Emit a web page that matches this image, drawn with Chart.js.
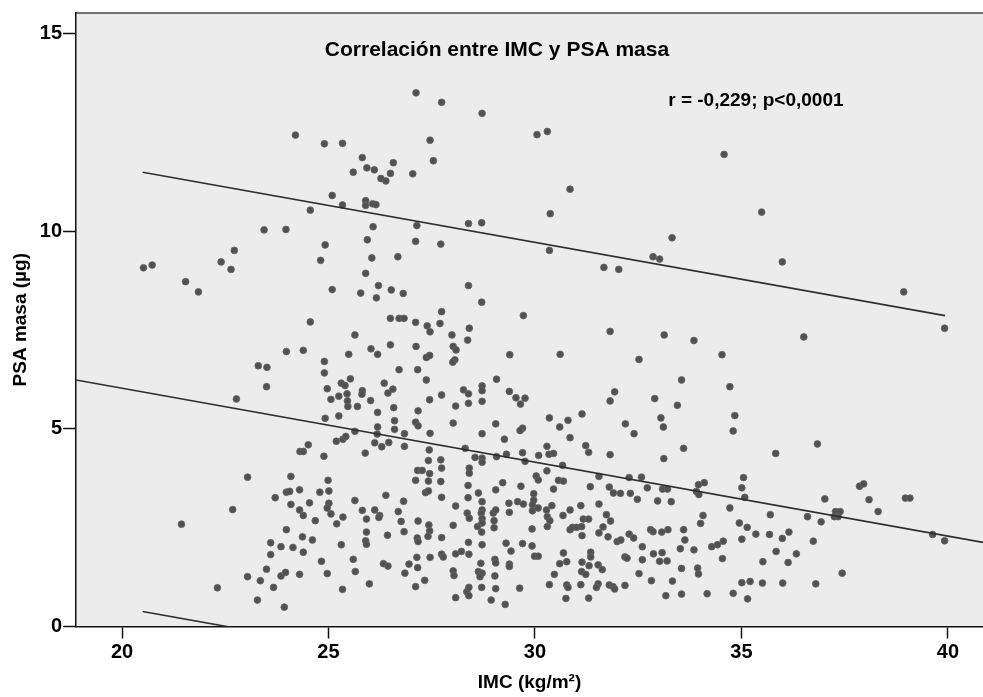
<!DOCTYPE html>
<html>
<head>
<meta charset="utf-8">
<script src="https://cdn.jsdelivr.net/npm/chart.js@4.4.1/dist/chart.umd.min.js"></script>
<style>
  html, body { margin: 0; padding: 0; background: #ffffff; }
  #wrap { width: 983px; height: 697px; }
</style>
</head>
<body>
<div id="wrap"><canvas id="c" width="983" height="697"></canvas></div>
<script>
// ---- data (IMC kg/m², PSA masa µg) ----
const puntos = [
  [20.52,9.08],[20.73,9.15],
  [27.12,13.51],[24.20,12.44],[24.90,12.22],[25.34,12.23],[27.46,12.31],[25.82,11.87],[25.93,11.61],[26.11,11.56],[26.57,11.74],[25.60,11.50],[26.50,11.47],[26.27,11.34],[26.39,11.28],[27.04,11.46],[27.54,11.79],[25.09,10.91],[25.34,10.67],[25.90,10.78],[25.90,10.66],[26.07,10.70],[26.15,10.68],[24.56,10.54],[27.14,10.15],[26.08,10.12],[23.44,10.04],[23.97,10.05],[25.94,9.79],[27.11,9.75],[24.92,9.66],[22.72,9.52],[22.40,9.23],[22.64,9.04],[24.81,9.27],[26.05,9.33],[26.68,9.36],[25.90,8.94],[21.54,8.73],[21.85,8.47],[25.09,8.53],[25.78,8.44],[26.21,8.63],[26.16,8.32],[26.52,8.52],[26.81,8.43],[24.56,7.71],[25.64,7.38],[26.50,7.80],[26.71,7.80],[26.83,7.80],[27.11,7.70],[27.39,7.61],[27.46,7.46],
  [27.74,13.27],[28.72,12.99],[30.05,12.45],[30.30,12.53],[30.85,11.07],[30.37,10.45],[28.39,10.20],[28.71,10.22],[27.72,9.68],[30.35,9.52],[33.32,9.84],[32.86,9.36],[33.02,9.30],[31.67,9.09],[32.03,9.04],[28.39,8.63],[28.71,8.21],[27.74,7.97],[27.70,7.67],[29.72,7.87],[27.99,7.38],[28.41,7.55],[28.37,7.25],[31.82,7.47],[33.13,7.38],[33.85,7.24],
  [34.58,11.95],[35.49,10.49],[35.99,9.23],[38.93,8.47],[39.92,7.55],[36.51,7.33],
  [23.98,6.96],[24.39,6.99],[25.49,6.89],[26.03,7.03],[26.19,6.89],[26.50,7.13],[27.12,7.09],[27.37,6.81],[27.45,6.86],[23.30,6.60],[23.51,6.56],[24.90,6.71],[24.90,6.42],[26.71,6.50],[27.16,6.50],[25.53,6.27],[23.50,6.07],[24.97,6.02],[25.31,6.16],[25.40,6.10],[25.82,5.97],[25.81,5.88],[26.35,6.16],[26.44,5.91],[26.56,6.01],[27.37,6.24],
  [22.77,5.76],[25.06,5.75],[25.25,5.83],[25.45,5.89],[25.46,5.71],[25.47,5.57],[25.70,5.57],[26.02,5.72],[27.45,5.74],[26.58,5.54],[26.19,5.42],[27.17,5.46],[24.92,5.27],[25.25,5.33],[26.60,5.21],[27.11,5.17],[27.17,5.08],[26.19,5.05],[26.60,4.99],[25.64,4.94],[26.18,4.87],[26.84,4.88],[27.46,4.89],[25.19,4.69],[25.35,4.74],[25.42,4.81],[26.12,4.65],[26.29,4.55],[26.46,4.66],[26.84,4.56],[24.51,4.60],[24.31,4.43],[24.39,4.43],[24.89,4.31],[25.89,4.39],[27.44,4.47],[27.42,4.20],
  [23.04,3.78],[24.09,3.80],[27.16,3.95],[27.27,3.95],[27.45,3.87],[24.99,3.70],[27.11,3.70],[27.42,3.68],[23.98,3.40],[24.06,3.42],[24.30,3.46],[24.79,3.40],[25.01,3.43],[26.39,3.32],[27.35,3.39],[27.42,3.43],[23.71,3.26],[24.09,3.09],[24.54,3.13],[25.01,3.12],[24.97,3.00],[25.64,3.19],[26.82,3.17],[22.68,2.96],[24.30,2.95],[24.39,2.81],[25.06,2.85],[25.82,2.94],[26.12,2.95],[26.24,2.81],[26.22,2.76],[26.69,2.91],[27.17,2.67],[24.68,2.68],[25.35,2.77],[25.92,2.72],[25.20,2.60],[26.76,2.66],[21.44,2.59],[27.43,2.57],[27.45,2.42],[23.98,2.45],[25.92,2.39],[26.83,2.40],[27.41,2.28],
  [24.37,2.27],[24.61,2.19],[25.90,2.17],[25.92,2.08],[26.43,2.31],[27.15,2.24],[27.17,2.15],[23.60,2.12],[23.85,2.02],[24.14,2.00],[24.39,1.88],[25.31,2.07],[23.60,1.82],[24.83,1.65],[25.60,1.70],[26.33,1.59],[26.44,1.53],[26.95,1.58],[27.14,1.75],[27.46,1.75],[23.50,1.45],[23.85,1.28],[23.96,1.37],[24.30,1.32],[24.97,1.34],[25.65,1.39],[26.85,1.35],[27.16,1.49],[23.04,1.26],[23.35,1.16],[23.67,0.99],[22.31,0.98],[25.34,0.94],[25.99,1.08],[27.11,1.01],[27.33,1.17],[23.28,0.67],[23.93,0.49],
  [28.02,7.09],[28.09,7.00],[28.06,6.75],[28.01,6.69],[29.39,6.88],[30.61,6.89],[32.52,6.76],[33.55,6.24],[27.74,5.86],[29.07,6.26],[28.27,5.99],[28.39,5.89],[28.72,6.09],[28.72,5.97],[28.72,5.70],[28.39,5.65],[29.38,5.95],[29.54,5.79],[29.65,5.63],[29.76,5.78],[28.08,5.58],[31.93,5.94],[31.82,5.71],[32.90,5.77],[33.45,5.60],
  [28.02,5.15],[29.05,5.13],[28.72,4.88],[29.26,4.74],[29.70,5.02],[29.64,4.96],[30.35,5.28],[30.60,5.05],[30.80,5.22],[31.14,5.38],[30.85,4.78],[32.19,5.13],[32.40,4.88],[33.05,5.28],[33.11,5.05],[33.60,4.51],[33.12,4.25],[30.29,4.56],[30.34,4.36],[30.45,4.38],[31.23,4.58],[31.30,4.41],[31.82,4.35],[28.31,4.51],
  [27.72,4.22],[27.74,4.01],[27.72,3.67],[27.74,3.27],[27.74,2.25],[27.74,1.83],
  [28.55,4.28],[28.72,4.26],[28.72,4.16],[29.07,4.30],[29.31,4.36],[29.70,4.40],[29.76,4.18],[30.09,4.33],[30.67,4.08],[28.41,4.01],[28.41,3.88],[28.38,3.57],[29.22,3.64],[29.05,3.46],[29.66,3.55],[30.03,3.81],[30.08,3.71],[30.29,3.94],[30.57,3.70],[30.69,3.68],[30.45,3.48],[31.34,3.54],[31.55,3.80],[31.80,3.53],[31.90,3.38],[32.07,3.37],[32.31,3.37],[32.28,3.77],[32.58,3.78],[32.48,3.22],[32.72,3.51],[33.09,3.48],[33.21,3.48],[32.97,3.18],[33.30,3.16],[33.96,3.59],[34.10,3.64],[33.91,3.42],[33.97,3.34],
  [28.38,3.26],[28.63,3.38],[28.08,3.05],[28.72,3.16],[28.72,2.95],[28.70,2.87],[28.36,2.87],[28.41,2.74],[28.99,2.87],[29.05,2.95],[29.01,2.68],[28.72,2.73],[28.72,2.62],[28.61,2.53],[28.71,2.39],[29.01,2.50],[29.37,3.12],[29.38,2.89],[29.58,3.16],[29.72,3.10],[29.97,3.36],[29.97,3.20],[29.94,3.08],[29.94,2.93],[30.08,3.00],[30.28,2.95],[30.30,2.78],[30.36,2.68],[30.30,2.53],[30.41,3.06],[30.68,2.81],[30.85,2.95],[31.11,3.06],[31.17,2.72],[31.30,2.72],[31.55,3.10],[31.73,2.83],[31.83,2.67],[31.65,2.52],[31.55,2.37],
  [30.85,2.45],[30.91,2.51],[31.01,2.51],[31.13,2.53],[31.14,2.30],[31.77,2.27],[31.99,2.15],[32.08,2.19],[32.28,2.34],[32.39,2.24],[32.80,2.45],[32.86,2.40],[33.07,2.39],[33.22,2.45],[33.60,2.45],[33.63,2.19],[34.01,2.61],[34.07,2.81],[28.02,2.56],[29.93,2.47],[28.39,2.13],[28.72,2.07],[29.30,2.11],[29.70,2.10],[29.93,2.04],[29.42,1.91],[29.99,1.78],[30.08,1.78],[28.08,1.84],[28.22,1.90],[28.40,1.83],[27.78,1.76],[29.03,1.70],[29.05,1.61],[28.69,1.60],[29.38,1.58],[29.38,1.52],[30.69,1.86],[30.60,1.59],[30.77,1.64],[31.14,1.63],[31.35,1.88],[31.35,1.76],[31.31,1.54],[31.53,1.56],[31.63,1.44],[31.13,1.39],[31.23,1.32],[32.18,1.76],[32.23,1.73],[32.60,2.02],[32.60,1.69],[32.87,1.84],[33.08,1.87],[33.02,1.65],[33.20,1.66],[33.52,1.97],[33.85,1.94],[33.55,1.47],[33.94,1.48],[33.96,1.33],[32.52,1.34],
  [28.02,1.41],[28.04,1.29],[28.63,1.39],[28.72,1.35],[28.67,1.26],[29.03,1.28],[30.47,1.32],[28.35,0.88],[28.40,0.99],[28.40,0.78],[28.71,0.99],[29.05,0.96],[29.63,0.97],[28.08,0.73],[28.94,0.67],[29.28,0.56],[30.35,1.06],[30.77,1.05],[30.80,0.99],[31.11,1.06],[30.75,0.71],[31.30,0.72],[31.53,1.08],[31.49,0.99],[31.80,1.05],[31.89,1.01],[31.93,0.95],[32.18,1.04],[32.82,1.16],[33.33,1.15],[33.17,0.78],[33.55,0.82],[34.17,0.83],
  [34.53,6.88],[34.72,6.07],[34.84,5.34],[34.80,4.95],[36.84,4.62],[35.83,4.38],[35.05,3.77],[35.01,3.51],[35.08,3.27],[34.72,3.00],[37.86,3.55],[37.96,3.61],[38.09,3.21],[38.97,3.25],[39.08,3.25],[37.02,3.23],[38.31,2.91],[35.70,2.83],[36.60,2.78],[36.93,2.65],[37.28,2.91],[37.39,2.91],[37.25,2.78],[37.34,2.78],[39.63,2.33],[39.92,2.17],[34.95,2.62],[35.14,2.51],[35.35,2.34],[35.68,2.33],[36.15,2.39],[35.99,2.23],[35.01,2.21],[34.56,2.16],[34.42,2.07],[34.28,2.02],[36.74,2.16],[35.84,1.90],[36.33,1.84],[34.54,1.72],[35.52,1.64],[36.13,1.62],[37.44,1.35],[35.01,1.11],[35.21,1.14],[35.51,1.10],[36.00,1.10],[36.80,1.08],[34.80,0.84],[35.15,0.70]
];

// fitted line and 95% individual prediction limits (endpoints)
const lineaAjuste    = [[18.886, 6.24], [40.85, 2.13]];
const limiteSuperior = [[20.50, 11.50], [39.93, 7.87]];
const limiteInferior = [[20.50, 0.38], [39.93, -3.25]];

const ticksX = [20, 25, 30, 35, 40];
const ticksY = [0, 5, 10, 15];
const rangoX = [18.886, 40.85];
const rangoY = [0, 15.53];

const titulo = 'Correlación entre IMC y PSA masa';
const estadistico = 'r = -0,229; p<0,0001';
const tituloX = 'IMC (kg/m²)';
const tituloY = 'PSA masa (µg)';

// ---- chart ----
const FONT = '"Liberation Sans", Arial, Helvetica, sans-serif';
Chart.defaults.font.family = FONT;
Chart.defaults.color = '#000';

const toXY = arr => arr.map(p => ({ x: p[0], y: p[1] }));

const fondo = {
  id: 'fondo',
  beforeDraw(chart) {
    const { ctx, chartArea: a } = chart;
    ctx.save();
    ctx.fillStyle = '#ffffff';
    ctx.fillRect(0, 0, chart.width, chart.height);
    ctx.fillStyle = '#ececec';
    ctx.fillRect(a.left, a.top, a.right - a.left, a.bottom - a.top);
    ctx.strokeStyle = '#444';
    ctx.lineWidth = 1.5;
    ctx.beginPath();
    ctx.moveTo(a.left, a.top);
    ctx.lineTo(a.right, a.top);
    ctx.stroke();
    ctx.restore();
  },
  afterDatasetsDraw(chart) {
    const { ctx } = chart;
    const sx = chart.scales.x, sy = chart.scales.y;
    ctx.save();
    ctx.fillStyle = '#000';
    ctx.textAlign = 'center';
    ctx.textBaseline = 'middle';
    ctx.font = 'bold 21px ' + FONT;
    ctx.fillText(titulo, sx.getPixelForValue(29.08), sy.getPixelForValue(14.58));
    ctx.font = 'bold 19px ' + FONT;
    ctx.fillText(estadistico, sx.getPixelForValue(35.35), sy.getPixelForValue(13.30));
    ctx.restore();
  }
};

const lineStyle = {
  type: 'line',
  showLine: true,
  borderColor: '#2e2e2e',
  borderWidth: 1.6,
  pointRadius: 0,
  fill: false,
  tension: 0
};

new Chart(document.getElementById('c'), {
  type: 'scatter',
  data: {
    datasets: [
      Object.assign({ label: 'Ajuste', data: toXY(lineaAjuste) }, lineStyle),
      Object.assign({ label: 'Límite superior', data: toXY(limiteSuperior) }, lineStyle),
      Object.assign({ label: 'Límite inferior', data: toXY(limiteInferior) }, lineStyle),
      {
        label: 'Pacientes',
        data: toXY(puntos),
        pointRadius: 3.4,
        pointBackgroundColor: '#515151',
        pointBorderColor: '#666666',
        pointBorderWidth: 0.8
      }
    ]
  },
  options: {
    responsive: false,
    animation: false,
    devicePixelRatio: 1,
    layout: { autoPadding: false, padding: { top: 13, left: 0, right: 0, bottom: 0 } },
    plugins: { legend: { display: false }, tooltip: { enabled: false } },
    scales: {
      x: {
        type: 'linear',
        min: rangoX[0], max: rangoX[1],
        afterBuildTicks: s => { s.ticks = ticksX.map(v => ({ value: v })); },
        afterFit: s => { s.height = 70.5; s.paddingLeft = 0; s.paddingRight = 0; },
        ticks: { font: { size: 20, weight: 'bold' }, color: '#000', padding: 2, maxRotation: 0, autoSkip: false },
        grid: { display: true, drawOnChartArea: false, drawTicks: true, tickLength: 12, tickWidth: 1.5, tickColor: '#111' },
        border: { display: true, color: '#111', width: 1.5 },
        title: { display: true, text: tituloX, font: { size: 19, weight: 'bold' }, color: '#000', padding: { top: 0, bottom: 2.6 } }
      },
      y: {
        type: 'linear',
        min: rangoY[0], max: rangoY[1],
        afterBuildTicks: s => { s.ticks = ticksY.map(v => ({ value: v })); },
        afterFit: s => { s.width = 76; s.paddingTop = 0; s.paddingBottom = 0; },
        ticks: { font: { size: 20, weight: 'bold' }, color: '#000', padding: 1, autoSkip: false },
        grid: { display: true, drawOnChartArea: false, drawTicks: true, tickLength: 13, tickWidth: 1.5, tickColor: '#111' },
        border: { display: true, color: '#111', width: 1.5 },
        title: { display: true, text: tituloY, font: { size: 19, weight: 'bold' }, color: '#000', padding: { top: 9.6, bottom: 0 } }
      }
    }
  },
  plugins: [fondo]
});
</script>
</body>
</html>
